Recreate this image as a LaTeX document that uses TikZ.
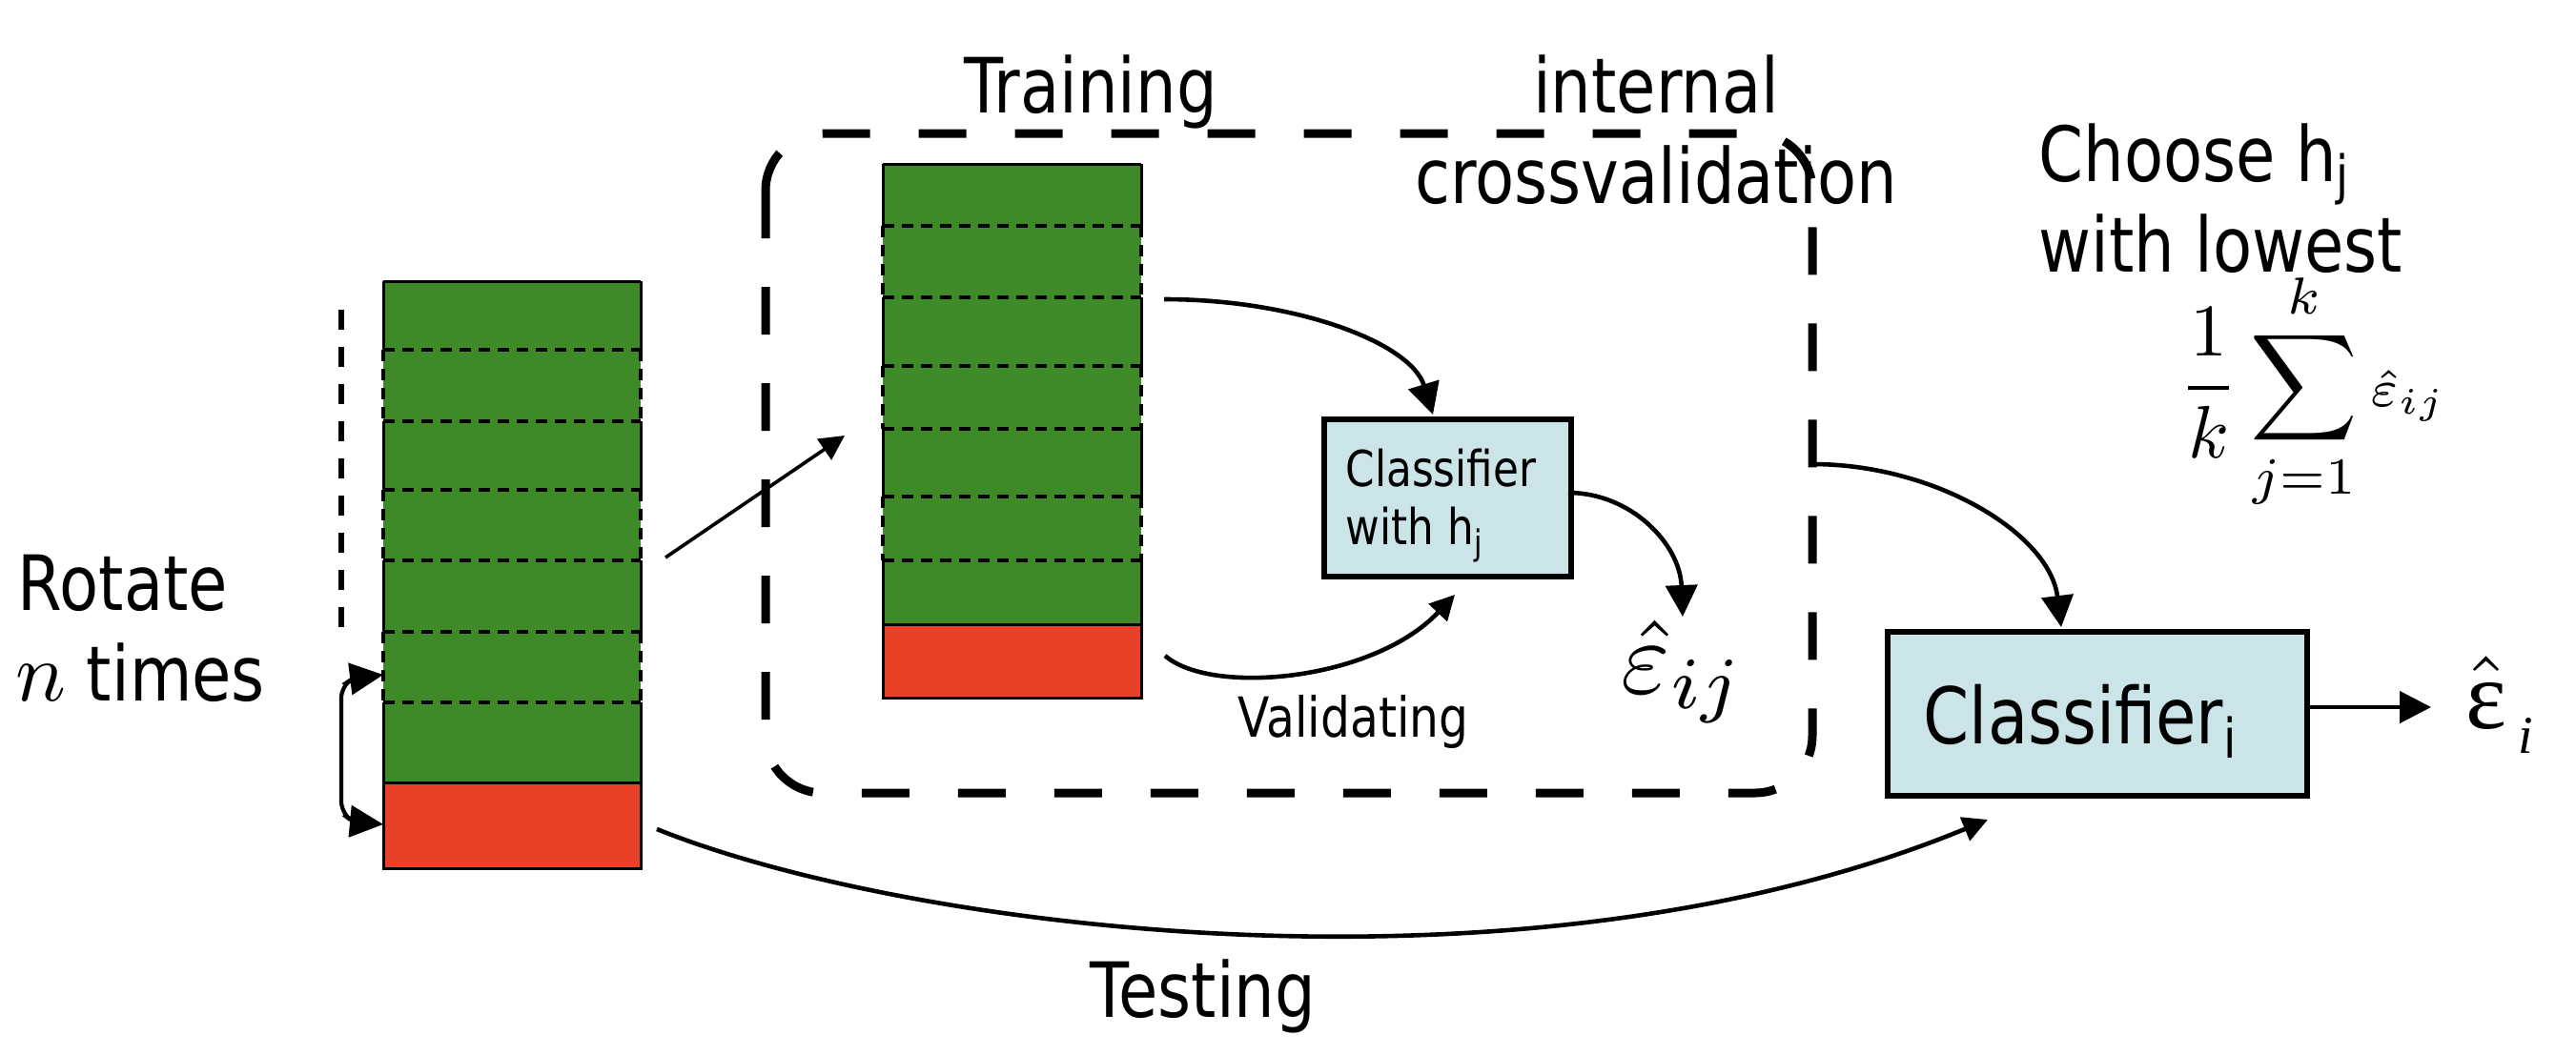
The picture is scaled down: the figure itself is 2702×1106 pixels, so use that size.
\documentclass[tikz,border=0pt]{standalone}
\usepackage[no-math]{fontspec}
\setmainfont{DejaVu Sans}[FakeStretch=0.84]
\newfontfamily\serifgr{Liberation Serif}
\usetikzlibrary{arrows.meta}
\definecolor{fgreen}{RGB}{62,138,41}
\definecolor{fred}{RGB}{233,65,40}
\definecolor{lblue}{RGB}{203,228,232}
\tikzset{
  thinline/.style={draw=black, line width=0.75pt},
  stripe/.style={draw=black, line width=0.8pt, dash pattern=on 3pt off 2pt},
  cvbox/.style={draw=black, line width=2.25pt, dash pattern=on 12.5pt off 12.75pt, rounded corners=15pt},
  clsbox/.style={draw=black, fill=lblue, line width=1.45pt, inner sep=0pt},
  conn/.style={line width=1.15pt, -{Triangle[length=8.25pt,width=8.25pt]}},
  connsm/.style={line width=0.95pt, -{Triangle[length=6.5pt,width=6.5pt]}},
  bothconn/.style={line width=1.05pt, {Triangle[length=8.75pt,width=8.25pt]}-{Triangle[length=8.75pt,width=8.25pt]}, rounded corners=3pt},
  vdash/.style={line width=1.5pt, dash pattern=on 5.25pt off 4.5pt},
  big/.style={font=\fontsize{20pt}{23.75pt}\selectfont, inner sep=0pt},
  mid/.style={font=\fontsize{14.5pt}{17pt}\selectfont, inner sep=0pt},
  small/.style={font=\fontsize{13pt}{15.25pt}\selectfont, inner sep=0pt},
  mathlbl/.style={font=\fontsize{10pt}{12pt}\selectfont, inner sep=0pt},
}
\begin{document}
\begin{tikzpicture}[x=0.25pt, y=-0.25pt]
\useasboundingbox (0,0) rectangle (2702,1106);

% ---------- left data stack ----------
\fill[fgreen] (402,295) rectangle (672,821);
\fill[fred] (402,821) rectangle (672,911);
\draw[thinline] (402,821) rectangle (672,911);
\draw[thinline] (402,295) -- (672,295);
\foreach \a/\b in {295/367, 442/514, 588/663, 737/821}
  \draw[thinline] (402,\a) -- (402,\b) (672,\a) -- (672,\b);
\foreach \a/\b in {367/442, 514/588, 663/737}
  \draw[stripe] (402,\a) -- (402,\b) (672,\a) -- (672,\b);
\foreach \y in {367,442,514,588,663,737}
  \draw[stripe] (402,\y) -- (672,\y);

% ---------- training stack ----------
\fill[fgreen] (926,172) rectangle (1197,655);
\fill[fred] (926,655) rectangle (1197,732);
\draw[thinline] (926,655) rectangle (1197,732);
\draw[thinline] (926,172) -- (1197,172);
\foreach \a/\b in {172/237, 312/384, 450/521, 588/655}
  \draw[thinline] (926,\a) -- (926,\b) (1197,\a) -- (1197,\b);
\foreach \a/\b in {237/312, 384/450, 521/588}
  \draw[stripe] (926,\a) -- (926,\b) (1197,\a) -- (1197,\b);
\foreach \y in {237,312,384,450,521,588}
  \draw[stripe] (926,\y) -- (1197,\y);

% ---------- internal crossvalidation frame ----------
\draw[cvbox] (803,140) rectangle (1901,832);

% ---------- classifier boxes ----------
\node[clsbox, minimum width=64.75pt, minimum height=41.25pt, anchor=north west] (chj) at (1386,437) {};
\node[clsbox, minimum width=110pt, minimum height=43pt, anchor=north west] (ci) at (1977,660) {};

% ---------- texts ----------
\node[big, anchor=base] (training) at (1144,118) {Training};
\node[big, anchor=base] (internal) at (1737,118) {internal};
\node[big, anchor=base] (crossval) at (1737,213) {crossvalidation};
\node[big, anchor=base west] (choose) at (2138,190) {Choose h\textsubscript{j}};
\node[big, anchor=base west] (lowest) at (2138,285) {with lowest};
\node[big, anchor=base west] (rotate) at (18,640) {Rotate};
\node[big, anchor=base west] (ntimes) at (16,735) {{\fontsize{10pt}{12pt}\selectfont\scalebox{2.2}{$n$}} times};
\node[mid, anchor=base west] (valid) at (1298,773) {Validating};
\node[big, anchor=base] (testing) at (1262,1067) {Testing};
\node[small, anchor=base west] (clsA) at (1411,510) {Classifier};
\node[small, anchor=base west] (clsB) at (1411,571) {with h\textsubscript{j}};
\node[font=\fontsize{20.5pt}{24pt}\selectfont, inner sep=0pt, anchor=base west] (clsI) at (2017,780) {Classifier\textsubscript{i}};
\node[mathlbl, anchor=base west] (eij) at (1700,727) {\scalebox{2.75}{$\hat{\varepsilon}_{ij}$}};
\node[mathlbl, anchor=base west] (formula) at (2285,426.5)
  {\scalebox{1.95}{$\displaystyle\frac{1}{k}\sum_{j=1}^{k}{\scriptstyle\hat{\varepsilon}_{ij}}$}};
\node[mathlbl, anchor=base west] (ei) at (2586,764)
  {\scalebox{2.55}{$\hat{\hbox{\serifgr ε}}$}\kern3pt\raisebox{-6.5pt}{\fontsize{14pt}{17pt}\selectfont\serifgr\itshape i}};

% ---------- connector end points ----------
\coordinate (lbOut) at (698,585);
\coordinate (tbIn) at (886,457);
\coordinate (rotTop) at (402,708);
\coordinate (rotBot) at (402,865);
\coordinate (vdTop) at (358,325);
\coordinate (vdBot) at (358,662);
\coordinate (trOut) at (1221,314);
\coordinate (chjTop) at (1503,435);
\coordinate (vaOut) at (1222,688);
\coordinate (chjLow) at (1526,624);
\coordinate (chjOut) at (1645,517);
\coordinate (eijIn) at (1765,647);
\coordinate (cvOut) at (1901,487);
\coordinate (ciTop) at (2162,658);
\coordinate (teOut) at (689,870);
\coordinate (teIn) at (2085,860);
\coordinate (ciOut) at (2417,742);
\coordinate (eiIn) at (2550,742);

% ---------- connectors ----------
\draw[vdash] (vdTop) -- (vdBot);
\draw[bothconn] (rotTop) -- (370,712) -- (358,720) -- (358,853) -- (370,862) -- (rotBot);
\draw[connsm, line width=0.9pt] (lbOut) -- (tbIn);
\draw[conn] (trOut) .. controls (1360,314) and (1480,360) .. (chjTop);
\draw[connsm, line width=1.15pt] (vaOut) .. controls (1270,730) and (1440,715) .. (chjLow);
\draw[conn] (chjOut) .. controls (1710,517) and (1762,570) .. (eijIn);
\draw[conn] (cvOut) .. controls (2030,487) and (2150,560) .. (ciTop);
\draw[connsm, line width=1.15pt] (teOut) .. controls (950,975) and (1600,1060) .. (teIn);
\draw[conn] (ciOut) -- (eiIn);
\end{tikzpicture}
\end{document}
